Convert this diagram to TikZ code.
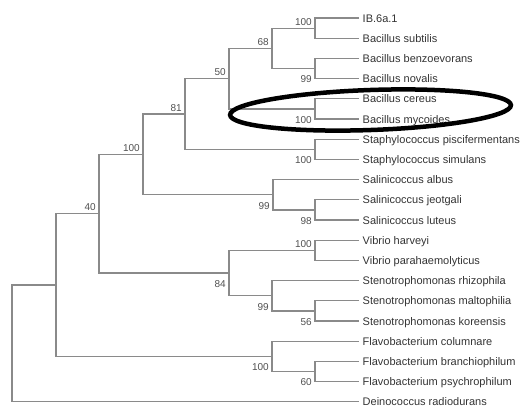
\documentclass[tikz,border=0pt]{standalone}
\usepackage{fontspec}
\setmainfont{Liberation Sans}
\definecolor{treegray}{HTML}{8A8A8A}
\definecolor{leafgray}{HTML}{333333}
\definecolor{labgray}{HTML}{505050}
\begin{document}
\begin{tikzpicture}[x=1pt,y=-1pt,
  br/.style={draw=treegray,line width=1.2pt},
  leaf/.style={anchor=west,inner xsep=3.5pt,inner ysep=0pt,text height=8pt,text depth=0pt,
    font=\fontsize{11}{13}\selectfont,text=leafgray},
  bsup/.style={anchor=base east,inner sep=0pt,font=\fontsize{10}{12}\selectfont,text=labgray},
  hilite/.style={draw=black,line width=4.5pt}
]
\useasboundingbox (0,0) rectangle (524,405);
% leaves
\node[leaf] (l0)  at (359,18.0)  {IB.6a.1};
\node[leaf] (l1)  at (359,38.2)  {Bacillus subtilis};
\node[leaf] (l2)  at (359,58.4)  {Bacillus benzoevorans};
\node[leaf] (l3)  at (359,78.6)  {Bacillus novalis};
\node[leaf] (l4)  at (359,98.8)  {Bacillus cereus};
\node[leaf] (l5)  at (359,119.0) {Bacillus mycoides};
\node[leaf] (l6)  at (359,139.2) {Staphylococcus piscifermentans};
\node[leaf] (l7)  at (359,159.4) {Staphylococcus simulans};
\node[leaf] (l8)  at (359,179.6) {Salinicoccus albus};
\node[leaf] (l9)  at (359,199.8) {Salinicoccus jeotgali};
\node[leaf] (l10) at (359,220.0) {Salinicoccus luteus};
\node[leaf] (l11) at (359,240.2) {Vibrio harveyi};
\node[leaf] (l12) at (359,260.4) {Vibrio parahaemolyticus};
\node[leaf] (l13) at (359,280.6) {Stenotrophomonas rhizophila};
\node[leaf] (l14) at (359,300.8) {Stenotrophomonas maltophilia};
\node[leaf] (l15) at (359,321.0) {Stenotrophomonas koreensis};
\node[leaf] (l16) at (359,341.2) {Flavobacterium columnare};
\node[leaf] (l17) at (359,361.4) {Flavobacterium branchiophilum};
\node[leaf] (l18) at (359,381.6) {Flavobacterium psychrophilum};
\node[leaf] (l19) at (359,401.8) {Deinococcus radiodurans};
% internal nodes
\coordinate (A) at (315,28.1);
\coordinate (B) at (315,68.5);
\coordinate (C) at (272,48.3);
\coordinate (D) at (315,108.9);
\coordinate (E) at (229,78.6);
\coordinate (F) at (315,149.3);
\coordinate (G) at (185,114.0);
\coordinate (H) at (315,209.9);
\coordinate (I) at (273,194.75);
\coordinate (J) at (143,154.4);
\coordinate (K) at (315,250.3);
\coordinate (L) at (315,310.9);
\coordinate (M) at (272,295.75);
\coordinate (N) at (229,273.0);
\coordinate (O) at (99,213.7);
\coordinate (P) at (315,371.5);
\coordinate (Q) at (272,356.35);
\coordinate (R) at (56,285.0);
\coordinate (S) at (12,343.4);
% branches
\draw[br] (l0.west) -| (A) |- (l1.west);
\draw[br] (l2.west) -| (B) |- (l3.west);
\draw[br] (A) -| (C) |- (B);
\draw[br] (l4.west) -| (D) |- (l5.west);
\draw[br] (C) -| (E) |- (D);
\draw[br] (l6.west) -| (F) |- (l7.west);
\draw[br] (E) -| (G) |- (F);
\draw[br] (l9.west) -| (H) |- (l10.west);
\draw[br] (l8.west) -| (I) |- (H);
\draw[br] (G) -| (J) |- (I);
\draw[br] (l11.west) -| (K) |- (l12.west);
\draw[br] (l14.west) -| (L) |- (l15.west);
\draw[br] (l13.west) -| (M) |- (L);
\draw[br] (K) -| (N) |- (M);
\draw[br] (J) -| (O) |- (N);
\draw[br] (l17.west) -| (P) |- (l18.west);
\draw[br] (l16.west) -| (Q) |- (P);
\draw[br] (O) -| (R) |- (Q);
\draw[br] (R) -| (S) |- (l19.west);
% bootstrap values
\path (A) ++(-3,-3)   node[bsup] (bA) {100};
\path (B) ++(-3,14.3) node[bsup] (bB) {99};
\path (C) ++(-3,-3)   node[bsup] (bC) {68};
\path (D) ++(-3,14.3) node[bsup] (bD) {100};
\path (E) ++(-3,-3)   node[bsup] (bE) {50};
\path (F) ++(-3,14.3) node[bsup] (bF) {100};
\path (G) ++(-3,-3)   node[bsup] (bG) {81};
\path (H) ++(-3,14.3) node[bsup] (bH) {98};
\path (I) ++(-3,14.3) node[bsup] (bI) {99};
\path (J) ++(-3,-3)   node[bsup] (bJ) {100};
\path (K) ++(-3,-3)   node[bsup] (bK) {100};
\path (L) ++(-3,14.3) node[bsup] (bL) {56};
\path (M) ++(-3,14.3) node[bsup] (bM) {99};
\path (N) ++(-3,14.3) node[bsup] (bN) {84};
\path (O) ++(-3,-3)   node[bsup] (bO) {40};
\path (P) ++(-3,14.3) node[bsup] (bP) {60};
\path (Q) ++(-3,14.3) node[bsup] (bQ) {100};
% highlight ellipse
\draw[hilite, rotate around={2:(370.5,110)}] (370.5,110) ellipse [x radius=140.5, y radius=20];
\end{tikzpicture}
\end{document}
